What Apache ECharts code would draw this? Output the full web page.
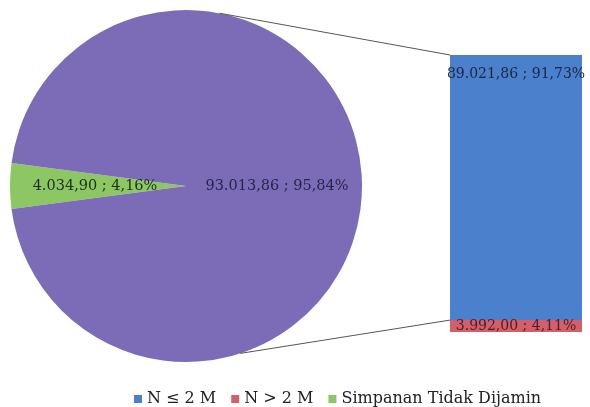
<!DOCTYPE html>
<html>
<head>
<meta charset="utf-8">
<script src="https://cdn.jsdelivr.net/npm/echarts@6/dist/echarts.min.js"></script>
<style>
html,body{margin:0;padding:0;background:#fff;}
#c{width:590px;height:407px;}
</style>
</head>
<body>
<div id="c"></div>
<script>
// ---- data ----
var pieNames = ['Simpanan Tidak Dijamin', 'Simpanan Dijamin'];
var pieValues = [4034.90, 93013.86];
var barNames = ['N > 2 M', 'N ≤ 2 M'];
var barValues = [3992.00, 89021.86];
var legendNames = ['N ≤ 2 M', 'N > 2 M', 'Simpanan Tidak Dijamin'];

// ---- style ----
var FONT = 'DejaVu Serif';
var C_PURPLE = '#7C6CB8', C_GREEN = '#8DC764', C_BLUE = '#4A80CC', C_RED = '#D25F69';
var pieCenter = [186, 186], pieR = 176;
var gridL = 450, gridT = 55, gridW = 132, gridH = 277;

var grandTotal = pieValues.reduce(function(a,b){return a+b;},0);
var barTotal = barValues.reduce(function(a,b){return a+b;},0);

function fmt(v, d){
  var s = v.toFixed(d).split('.');
  var ip = s[0].replace(/\B(?=(\d{3})+(?!\d))/g, '.');
  return s.length>1 ? ip + ',' + s[1] : ip;
}
function lab(v){ return fmt(v,2) + ' ; ' + fmt(v/grandTotal*100,2) + '%'; }

var chart = echarts.init(document.getElementById('c'), null, {renderer:'canvas'});
var option = {
  animation:false,
  color:[C_BLUE, C_RED, C_GREEN],
  textStyle:{fontFamily:FONT},
  legend:{
    data: legendNames.map(function(n){return {name:n, icon:'rect'};}),
    left:129, top:386,
    itemWidth:8, itemHeight:8, itemGap:15,
    textStyle:{fontFamily:FONT, fontSize:16, color:'#222'}
  },
  grid:{left:gridL, top:gridT, width:gridW, height:gridH},
  xAxis:{type:'category', data:['x'], show:false},
  yAxis:{type:'value', min:0, max:barTotal, show:false},
  series:[
    {
      type:'pie', name:'pie',
      center:pieCenter, radius:pieR,
      startAngle:180 + (pieValues[0]/grandTotal*360)/2,
      clockwise:true,
      label:{show:true, position:'inside', fontFamily:FONT, fontSize:14.5,
        formatter:function(p){return lab(p.value);}},
      labelLine:{show:false},
      emphasis:{disabled:true},
      data:[
        {name:pieNames[0], value:pieValues[0], itemStyle:{color:C_GREEN}, label:{color:'#1f2f1a'}},
        {name:pieNames[1], value:pieValues[1], itemStyle:{color:C_PURPLE}, label:{color:'#26244a'}}
      ]
    },
    {
      type:'bar', name:barNames[0], stack:'s', barWidth:'100%',
      itemStyle:{color:C_RED},
      label:{show:true, position:'inside', fontFamily:FONT, fontSize:14, color:'#4a1f25',
        formatter:function(p){return lab(p.value);}},
      data:[barValues[0]]
    },
    {
      type:'bar', name:barNames[1], stack:'s', barWidth:'100%',
      itemStyle:{color:C_BLUE},
      label:{show:true, position:'insideTop', distance:12, fontFamily:FONT, fontSize:14, color:'#1c2540',
        formatter:function(p){return lab(p.value);}},
      data:[barValues[1]]
    }
  ]
};
chart.setOption(option);

// connector lines from pie edge to bar
function piePt(deg){
  var a = deg*Math.PI/180;
  return [pieCenter[0] + pieR*Math.cos(a), pieCenter[1] - pieR*Math.sin(a)];
}
var topBar = chart.convertToPixel({yAxisIndex:0}, barTotal);
var redTop = chart.convertToPixel({yAxisIndex:0}, barValues[0]);
var p1 = piePt(79), p2 = piePt(-72);
chart.setOption({
  graphic:[
    {type:'line', shape:{x1:p1[0], y1:p1[1], x2:gridL, y2:topBar}, style:{stroke:'#555', lineWidth:1}, z:10},
    {type:'line', shape:{x1:p2[0], y1:p2[1], x2:gridL, y2:redTop}, style:{stroke:'#555', lineWidth:1}, z:10}
  ]
});
</script>
</body>
</html>
